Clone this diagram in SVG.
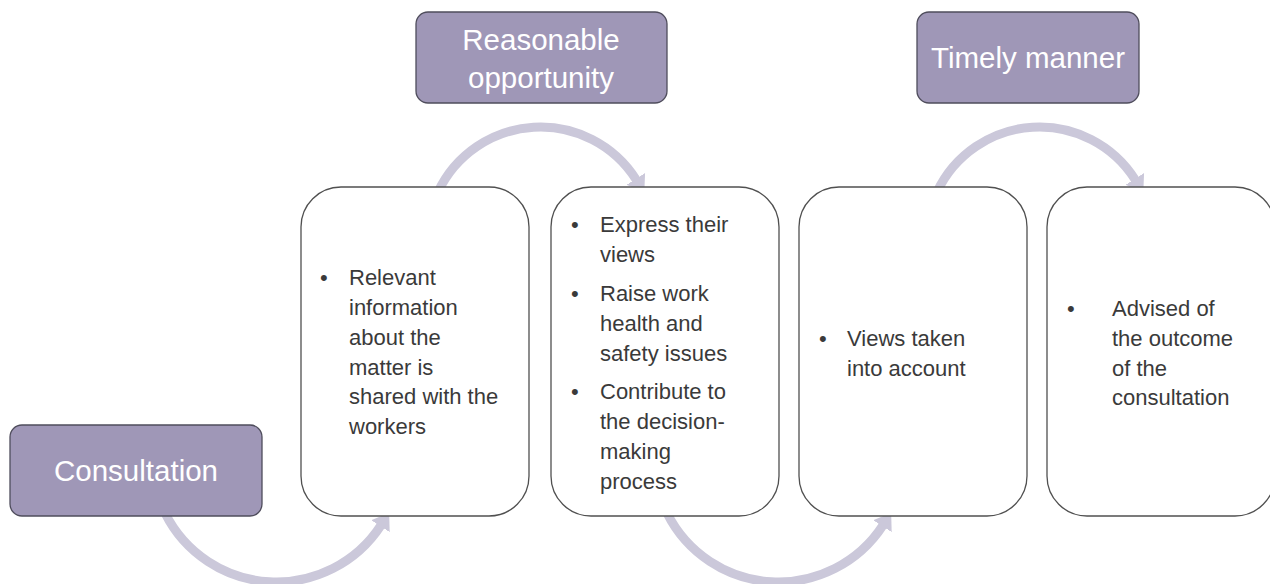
<svg xmlns="http://www.w3.org/2000/svg" width="1270" height="584" viewBox="0 0 1270 584">
<defs>
<style>
.hdr{fill:#9f97b7;stroke:#4f4d5c;stroke-width:1.3}
.box{fill:#ffffff;stroke:#505050;stroke-width:1.3}
.ht{font-family:"Liberation Sans",Arial,sans-serif;font-size:29.5px;fill:#ffffff;text-anchor:middle}
.bt{font-family:"Liberation Sans",Arial,sans-serif;font-size:22px;fill:#3a3a3a}
.arc{fill:none;stroke:#cbc8da;stroke-width:9}
</style>
<marker id="ah" markerUnits="userSpaceOnUse" markerWidth="20" markerHeight="26" refX="1" refY="12" orient="auto">
<path d="M0,1 L16,12 L0,23 Z" fill="#cbc8da"/>
</marker>
</defs>
<g id="connectors">
<path class="arc" d="M165,513 A124.6,124.6 0 0 0 381,525.3" marker-end="url(#ah)"/>
<path class="arc" d="M438,192 A113.3,113.3 0 0 1 636.3,179.8" marker-end="url(#ah)"/>
<path class="arc" d="M937,192 A113.3,113.3 0 0 1 1135.3,179.8" marker-end="url(#ah)"/>
<path class="arc" d="M667,513 A124.6,124.6 0 0 0 883,525.3" marker-end="url(#ah)"/>
</g>
<g id="consultation">
<rect class="hdr" x="10" y="425" width="252" height="91" rx="12"/>
<text class="ht" x="136" y="481">Consultation</text>
</g>
<g id="reasonable-opportunity">
<rect class="hdr" x="416" y="12" width="251" height="91" rx="12"/>
<text class="ht" x="541" y="50">Reasonable</text>
<text class="ht" x="541" y="88">opportunity</text>
</g>
<g id="timely-manner">
<rect class="hdr" x="917" y="12" width="222" height="91" rx="12"/>
<text class="ht" x="1028" y="68">Timely manner</text>
</g>
<g id="box-info">
<rect class="box" x="301" y="187" width="228" height="329" rx="40"/>
<text class="bt" x="320" y="285">•</text>
<text class="bt" x="349" y="285">Relevant</text>
<text class="bt" x="349" y="315">information</text>
<text class="bt" x="349" y="345">about the</text>
<text class="bt" x="349" y="375">matter is</text>
<text class="bt" x="349" y="404">shared with the</text>
<text class="bt" x="349" y="434">workers</text>
</g>
<g id="box-views">
<rect class="box" x="551" y="187" width="228" height="329" rx="40"/>
<text class="bt" x="571" y="232">•</text>
<text class="bt" x="600" y="232">Express their</text>
<text class="bt" x="600" y="262">views</text>
<text class="bt" x="571" y="301">•</text>
<text class="bt" x="600" y="301">Raise work</text>
<text class="bt" x="600" y="331">health and</text>
<text class="bt" x="600" y="361">safety issues</text>
<text class="bt" x="571" y="399">•</text>
<text class="bt" x="600" y="399">Contribute to</text>
<text class="bt" x="600" y="429">the decision-</text>
<text class="bt" x="600" y="459">making</text>
<text class="bt" x="600" y="489">process</text>
</g>
<g id="box-account">
<rect class="box" x="799" y="187" width="228" height="329" rx="40"/>
<text class="bt" x="819" y="346">•</text>
<text class="bt" x="847" y="346">Views taken</text>
<text class="bt" x="847" y="376">into account</text>
</g>
<g id="box-advised">
<rect class="box" x="1047" y="187" width="228" height="329" rx="40"/>
<text class="bt" x="1067" y="316">•</text>
<text class="bt" x="1112" y="316">Advised of</text>
<text class="bt" x="1112" y="346">the outcome</text>
<text class="bt" x="1112" y="376">of the</text>
<text class="bt" x="1112" y="405">consultation</text>
</g>
</svg>
